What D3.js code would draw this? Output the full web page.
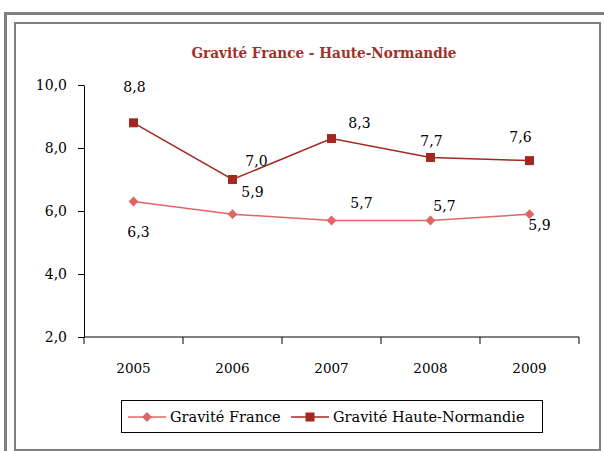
<!DOCTYPE html>
<html>
<head>
<meta charset="utf-8">
<script src="https://cdn.jsdelivr.net/npm/d3@7"></script>
<style>
  body { margin: 0; background: #fff; }
</style>
</head>
<body>
<svg id="chart"></svg>
<script>
const years = ["2005", "2006", "2007", "2008", "2009"];
const france = [6.3, 5.9, 5.7, 5.7, 5.9];
const normandie = [8.8, 7.0, 8.3, 7.7, 7.6];
const yTicks = [2, 4, 6, 8, 10];
const seriesNames = ["Gravité France", "Gravité Haute-Normandie"];

// hand-placed label offsets (like the original Excel chart)
const franceLabelOffset = [[5, 31], [20, -22], [30, -17], [14, -14], [10, 11]];
const normLabelOffset = [[1, -36], [24, -18], [28, -15], [1, -16], [-9, -24]];

const width = 604, height = 451;
const FONT = "DejaVu Serif";
const svg = d3.select("#chart").attr("width", width).attr("height", height)
  .attr("font-family", FONT);

const colFrance = "#e06666";
const colNorm = "#a3281f";

// frames
svg.append("rect")
  .attr("x", 5.5).attr("y", 13.5).attr("width", 640).attr("height", 480)
  .attr("fill", "none").attr("stroke", "#7f7f7f").attr("stroke-width", 3);
svg.append("rect")
  .attr("x", 15).attr("y", 23).attr("width", 585).attr("height", 427)
  .attr("fill", "#fff").attr("stroke", "#7f7f7f").attr("stroke-width", 2);

svg.append("text")
  .attr("x", 324).attr("y", 58)
  .attr("text-anchor", "middle")
  .attr("font-weight", "bold")
  .attr("font-size", 14)
  .attr("textLength", 265).attr("lengthAdjust", "spacingAndGlyphs")
  .attr("fill", "#a3302a")
  .text("Gravité France - Haute-Normandie");

const x = d3.scaleBand().domain(years).range([84, 579]).padding(0);
const y = d3.scaleLinear().domain([2, 10]).range([337, 85]);
const cx = d => x(d) + x.bandwidth() / 2;
const fmt = v => d3.format(".1f")(v).replace(".", ",");

// y axis
const yAxis = svg.append("g")
  .attr("transform", "translate(84,0)")
  .call(d3.axisLeft(y).tickValues(yTicks).tickFormat(fmt).tickSize(6).tickSizeOuter(0).tickPadding(11));
yAxis.attr("font-family", FONT);
yAxis.selectAll("text").attr("font-size", 14).attr("fill", "#000");
yAxis.selectAll("line, path").attr("stroke", "#000");

// x axis with ticks between categories
const xAxis = svg.append("g").attr("transform", "translate(0,337)");
xAxis.append("line").attr("x1", 84).attr("x2", 579).attr("stroke", "#000");
xAxis.selectAll(".tk")
  .data(years.concat(["end"]))
  .join("line")
  .attr("x1", (d, i) => i < years.length ? x(d) : x.range()[1])
  .attr("x2", (d, i) => i < years.length ? x(d) : x.range()[1])
  .attr("y1", 0).attr("y2", 7)
  .attr("stroke", "#000");
xAxis.selectAll(".lbl")
  .data(years)
  .join("text")
  .attr("x", d => cx(d)).attr("y", 36)
  .attr("text-anchor", "middle")
  .attr("font-size", 13.5)
  .text(d => d);

const line = d3.line().x(d => cx(d.year)).y(d => y(d.v));
const toPts = arr => arr.map((v, i) => ({ year: years[i], v }));

// France series
const ptsF = toPts(france);
svg.append("path").datum(ptsF).attr("d", line)
  .attr("fill", "none").attr("stroke", colFrance).attr("stroke-width", 1.5);
svg.selectAll(".mf").data(ptsF).join("path")
  .attr("transform", d => `translate(${cx(d.year)},${y(d.v)}) rotate(45)`)
  .attr("d", "M-3.5,-3.5H3.5V3.5H-3.5Z")
  .attr("fill", colFrance);

// Haute-Normandie series
const ptsN = toPts(normandie);
svg.append("path").datum(ptsN).attr("d", line)
  .attr("fill", "none").attr("stroke", colNorm).attr("stroke-width", 1.5);
svg.selectAll(".mn").data(ptsN).join("rect")
  .attr("x", d => cx(d.year) - 4.5).attr("y", d => y(d.v) - 4.5)
  .attr("width", 9).attr("height", 9)
  .attr("fill", colNorm);

// data labels
svg.selectAll(".lf").data(ptsF).join("text")
  .attr("x", (d, i) => cx(d.year) + franceLabelOffset[i][0])
  .attr("y", (d, i) => y(d.v) + franceLabelOffset[i][1])
  .attr("dy", "0.35em")
  .attr("text-anchor", "middle")
  .attr("font-size", 14)
  .text(d => fmt(d.v));
svg.selectAll(".ln").data(ptsN).join("text")
  .attr("x", (d, i) => cx(d.year) + normLabelOffset[i][0])
  .attr("y", (d, i) => y(d.v) + normLabelOffset[i][1])
  .attr("dy", "0.35em")
  .attr("text-anchor", "middle")
  .attr("font-size", 14)
  .text(d => fmt(d.v));

// legend
const legend = svg.append("g");
legend.append("rect")
  .attr("x", 121.5).attr("y", 400.5).attr("width", 421).attr("height", 32)
  .attr("fill", "#fff").attr("stroke", "#000").attr("stroke-width", 1);
const items = [
  { name: seriesNames[0], color: colFrance, x0: 128, shape: "diamond" },
  { name: seriesNames[1], color: colNorm, x0: 291, shape: "square" }
];
items.forEach(it => {
  const g = legend.append("g").attr("transform", `translate(${it.x0},417)`);
  g.append("line").attr("x1", 0).attr("x2", 38).attr("stroke", it.color).attr("stroke-width", 1.5);
  if (it.shape === "diamond") {
    g.append("path").attr("transform", "translate(19,0) rotate(45)")
      .attr("d", "M-3.5,-3.5H3.5V3.5H-3.5Z").attr("fill", it.color);
  } else {
    g.append("rect").attr("x", 14.5).attr("y", -4.5).attr("width", 9).attr("height", 9).attr("fill", it.color);
  }
  g.append("text").attr("x", 42).attr("dy", "0.35em")
    .attr("font-size", 14.5)
    .text(it.name);
});
</script>
</body>
</html>
